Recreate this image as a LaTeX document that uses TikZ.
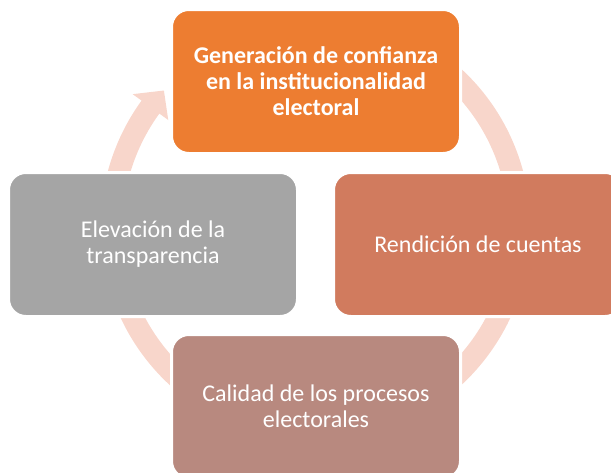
\documentclass[tikz,border=0pt]{standalone}
\usepackage{fontspec}
\setmainfont{Carlito}
\definecolor{ringpink}{HTML}{F8D6CB}
\definecolor{boxorange}{HTML}{ED7D31}
\definecolor{boxrust}{HTML}{D17B5E}
\definecolor{boxrose}{HTML}{B8897F}
\definecolor{boxgray}{HTML}{A5A5A5}

\begin{document}
\begin{tikzpicture}[x=0.75pt, y=0.75pt,
  cyclebox/.style={rectangle, rounded corners=13pt, draw=white, line width=2.25pt,
    minimum width=216.75pt, minimum height=108pt, inner sep=0pt, align=center,
    text=white, font=\fontsize{18}{19.5}\selectfont}]
\clip (0,0) rectangle (611,-472);

% ring with its arrow head
\begin{scope}[shift={(315.5,-227)}]
\fill[ringpink] (60:215) arc[start angle=60, end angle=-216, radius=215]
  -- (-216:226) -- (-222:204) -- (-216:182) -- (-216:193)
  arc[start angle=-216, end angle=60, radius=193] -- cycle;
\end{scope}

\node[cyclebox, fill=boxorange, font=\fontsize{18}{19.5}\selectfont\bfseries]
  (confianza) at (316,-81.5) {Generación de confianza\\en la institucionalidad\\electoral};
\node[cyclebox, fill=boxrust] (cuentas) at (478,-244.5) {Rendición de cuentas};
\node[cyclebox, fill=boxrose] (calidad) at (316,-406.5) {Calidad de los procesos\\electorales};
\node[cyclebox, fill=boxgray] (transparencia) at (153,-244.5) {Elevación de la\\transparencia};
\end{tikzpicture}
\end{document}
